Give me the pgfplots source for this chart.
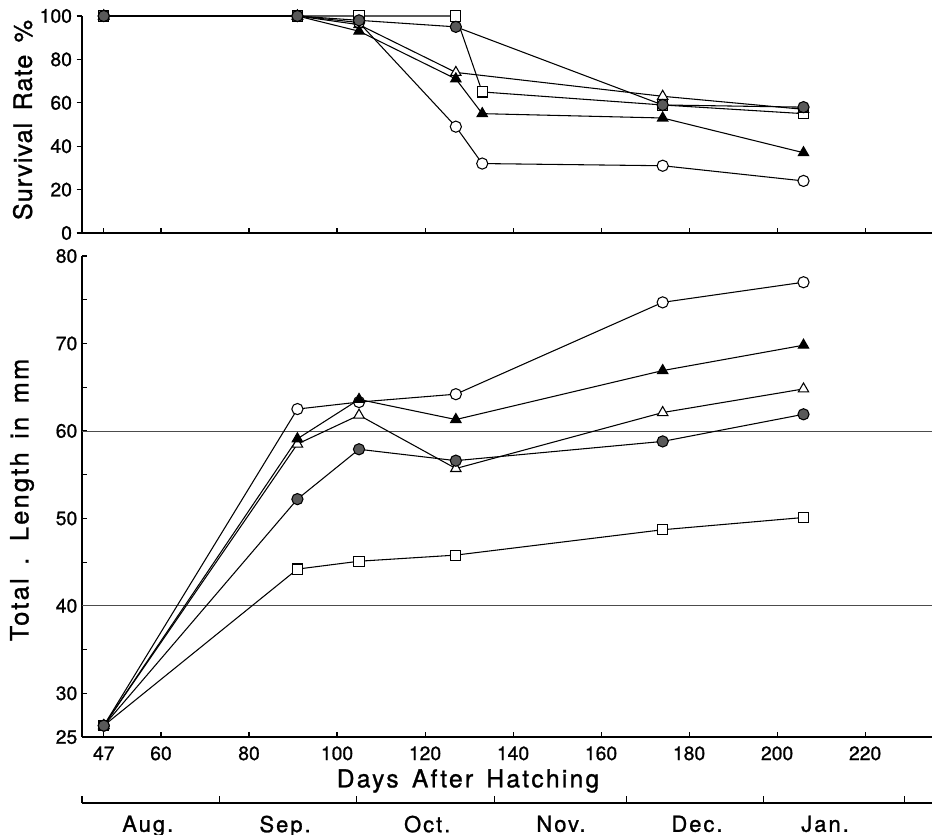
\documentclass[border=0pt]{standalone}
\usepackage{fontspec}
\setmainfont[FakeBold=0.9]{TeX Gyre Heros}
\newfontfamily\spaced[LetterSpace=9, FakeBold=1.1]{TeX Gyre Heros}
\newfontfamily\lspaced[LetterSpace=4, FakeBold=1.1]{TeX Gyre Heros}
\usepackage{pgfplots}
\pgfplotsset{compat=1.18}

\pgfplotsset{
  base/.style={
    scale only axis, width=637.5pt,
    xmin=42.05, xmax=235.2,
    axis x line=bottom, axis y line=left,
    axis line style={-, line width=1pt},
    /pgf/number format/assume math mode=true,
    tick label style={font=\fontsize{14.5}{16}\selectfont},
    tick style={black, line width=0.8pt},
    major tick length=4pt,
    xtick={47,60,80,100,120,140,160,180,200,220},
    xtick align=inside,
    clip=false,
  },
  ln/.style={black, line width=0.8pt},
  oc/.style={ln, mark=*, mark size=4.2pt, mark options={fill=white, draw=black, line width=0.8pt}},
  fc/.style={ln, mark=*, mark size=4.2pt, mark options={fill=black!65, draw=black, line width=0.8pt}},
  sq/.style={ln, mark=square*, mark size=3.8pt, mark options={fill=white, draw=black, line width=0.8pt}},
  ot/.style={ln, mark=triangle*, mark size=4.5pt, mark options={fill=white, draw=black, line width=0.8pt}},
  ft/.style={ln, mark=triangle*, mark size=4.5pt, mark options={fill=black, draw=black, line width=0.8pt}},
}

\begin{document}
\begin{tikzpicture}
\useasboundingbox (0pt,0pt) rectangle (699pt,-626.25pt);

% ---------- Survival rate ----------
\begin{axis}[base, at={(61.5pt,-174.75pt)}, anchor=south west,
  height=162.75pt, ymin=0, ymax=100, ytick={0,20,40,60,80,100},
  xticklabels={}, ytick align=outside]
\addplot[sq] coordinates {(47,100)(91,100)(105,100)(127,100)(133,65)(174,59)(206,55)};
\addplot[ot] coordinates {(47,100)(91,100)(105,96)(127,74)(174,63)(206,57)};
\addplot[oc] coordinates {(47,100)(91,100)(105,97)(127,49)(133,32)(174,31)(206,24)};
\addplot[ft] coordinates {(47,100)(91,100)(105,93)(127,71)(133,55)(174,53)(206,37)};
\addplot[fc] coordinates {(47,100)(91,100)(105,98)(127,95)(174,59)(206,58)};
\end{axis}

% ---------- Total length ----------
\begin{axis}[base, at={(61.5pt,-552.75pt)}, anchor=south west,
  height=360.75pt, ymin=25, ymax=80,
  ytick={25,30,35,40,45,50,55,60,65,70,75,80},
  yticklabels={25,30,,40,,50,,60,,70,,80},
  ytick align=inside,
  x tick label style={yshift=-3.5pt}]
\draw[black!70, line width=0.6pt] (axis cs:42.05,60) -- (axis cs:235.2,60);
\draw[black!70, line width=0.6pt] (axis cs:42.05,40) -- (axis cs:235.2,40);
\addplot[sq] coordinates {(47,26.3)(91,44.2)(105,45.1)(127,45.8)(174,48.7)(206,50.1)};
\addplot[ot] coordinates {(47,26.3)(91,58.5)(105,61.8)(127,55.7)(174,62.1)(206,64.8)};
\addplot[oc] coordinates {(47,26.3)(91,62.5)(105,63.3)(127,64.2)(174,74.7)(206,77.0)};
\addplot[ft] coordinates {(47,26.3)(91,59.1)(105,63.6)(127,61.3)(174,66.9)(206,69.8)};
\addplot[fc] coordinates {(47,26.3)(91,52.2)(105,57.9)(127,56.6)(174,58.8)(206,61.9)};
\end{axis}

% ---------- Month axis ----------
\begin{axis}[scale only axis, width=637.5pt, height=1pt,
  at={(61.5pt,-602.25pt)}, anchor=south west,
  xmin=42.05, xmax=235.2, ymin=0, ymax=1,
  axis x line=bottom, hide y axis,
  axis line style={-, line width=1pt},
  xtick={42.05,73.2,104.5,135.7,165.7,197.0,228.9},
  xticklabels={}, xtick align=inside, major tick length=5pt,
  tick style={black, line width=0.8pt},
  extra x ticks={57.0,88.2,120.5,150.9,181.8,210.9},
  extra x tick labels={Aug.,Sep.,Oct.,Nov.,Dec.,Jan.},
  extra x tick style={major tick length=0pt,
    tick label style={font=\spaced\fontsize{16.5}{18}\selectfont, yshift=-6pt}},
  clip=false]
\addplot[draw=none] coordinates {(50,0)};
\end{axis}

% ---------- Labels ----------
\node[rotate=90, font=\lspaced\fontsize{19}{21}\selectfont] at (17pt,-90pt) {Survival\, Rate\, \%};
\node[rotate=90, font=\spaced\fontsize{19}{21}\selectfont] at (16.5pt,-375pt) {Total\, .\, Length\, in\, mm};
\node[font=\spaced\fontsize{18.5}{20}\selectfont] at (351pt,-585.75pt) {Days\, After\, Hatching};
\end{tikzpicture}
\end{document}
